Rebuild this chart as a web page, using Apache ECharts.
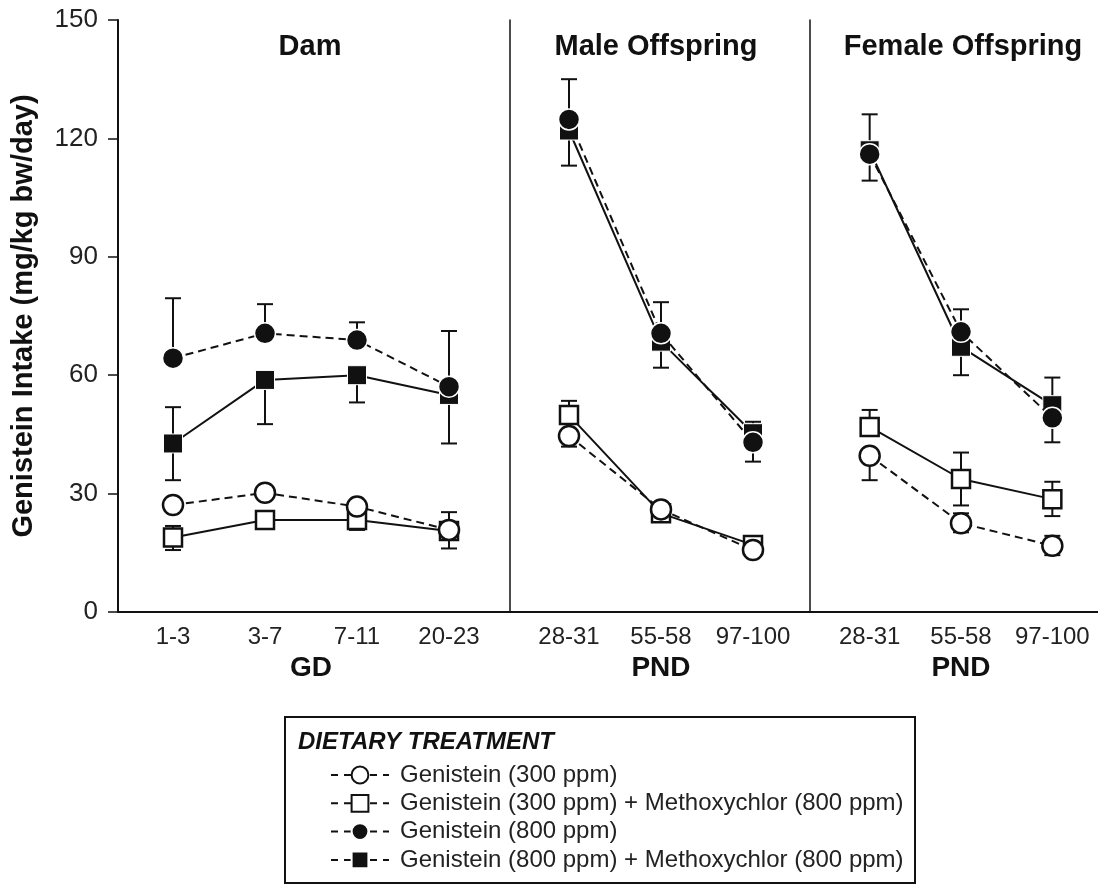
<!DOCTYPE html>
<html>
<head>
<meta charset="utf-8">
<script src="https://cdn.jsdelivr.net/npm/echarts@6/dist/echarts.min.js"></script>
<style>
  html, body { margin: 0; padding: 0; background: #fff; }
  #chart { width: 1098px; height: 888px; }
</style>
</head>
<body>
<div id="chart"></div>
<script>
// panels and their categories
const panelTitles = ['Dam', 'Male Offspring', 'Female Offspring']
const panelAxisNames = ['GD', 'PND', 'PND']
const damDays = ['1-3', '3-7', '7-11', '20-23']
const offspringDays = ['28-31', '55-58', '97-100']

const treatments = [
  'Genistein (300 ppm)',
  'Genistein (300 ppm) + Methoxychlor (800 ppm)',
  'Genistein (800 ppm)',
  'Genistein (800 ppm) + Methoxychlor (800 ppm)'
]

// mean intake, mg/kg bw/day  (order: G300, G300+M, G800, G800+M)
const damValues = [
  [27.1, 30.2, 26.7, 20.8],
  [18.9, 23.3, 23.3, 20.5],
  [64.3, 70.6, 68.9, 57.1],
  [42.7, 58.8, 60.0, 55.0]
]
const maleValues = [
  [44.6, 26.0, 15.7],
  [49.9, 25.0, 17.0],
  [124.8, 70.6, 43.0],
  [122.0, 68.5, 45.3]
]
const femaleValues = [
  [39.6, 22.5, 16.8],
  [46.9, 33.7, 28.6],
  [116.0, 71.0, 49.2],
  [117.0, 67.2, 52.4]
]

// error bars as they show: [category index, low end, high end]
const damErrors = [
  [0, 64.3, 79.5], [1, 70.6, 78.0], [2, 68.9, 73.4], [3, 57.1, 71.2],
  [0, 33.4, 51.9], [1, 47.6, 58.8], [2, 53.1, 60.0], [3, 42.7, 55.0],
  [3, 16.1, 25.3],
  [0, 15.7, 21.8], [2, 20.8, 23.3]
]
const maleErrors = [
  [0, 113.1, 135.0], [1, 61.9, 78.5], [2, 38.1, 48.2],
  [0, 41.9, 53.5]
]
const femaleErrors = [
  [0, 109.3, 126.1], [1, 60.0, 76.7], [2, 43.0, 59.4],
  [0, 46.9, 51.2], [1, 27.0, 40.4], [2, 24.3, 33.0],
  [0, 33.4, 39.6], [1, 20.2, 25.0], [2, 14.4, 19.3]
]

const yTicks = [0, 30, 60, 90, 120, 150]

const panelCats = [damDays, offspringDays, offspringDays]
const panelValues = [damValues, maleValues, femaleValues]
const panelErrors = [damErrors, maleErrors, femaleErrors]

const FONT = '"Liberation Sans", Arial, Helvetica, sans-serif'
const INK = '#111'

const styles = [
  { symbol: 'circle', size: 20, fill: '#fff', border: INK, bw: 2.5, dash: [8, 5], z: 4 },
  { symbol: 'rect', size: 18, fill: '#fff', border: INK, bw: 2.5, dash: 'solid', z: 3 },
  { symbol: 'circle', size: 21, fill: INK, border: '#fff', bw: 1.5, dash: [8, 5], z: 6 },
  { symbol: 'rect', size: 19, fill: INK, border: '#fff', bw: 1, dash: 'solid', z: 5 }
]

const grids = [
  { left: 127, top: 20, width: 368, height: 592 },
  { left: 523, top: 20, width: 276, height: 592 },
  { left: 824, top: 20, width: 274, height: 592 },
  { left: 118, top: 20, width: 980, height: 592 }
]
const yOffsets = [9, 13, 14]

const xAxes = panelCats.map((cats, p) => ({
  type: 'category',
  gridIndex: p,
  data: cats,
  boundaryGap: true,
  axisLine: { show: false },
  axisTick: { show: false },
  axisLabel: { interval: 0, hideOverlap: false, fontSize: 24, color: '#222', fontFamily: FONT, margin: 13 },
  name: panelAxisNames[p],
  nameLocation: 'middle',
  nameGap: 31,
  nameTextStyle: { fontSize: 28, fontWeight: 'bold', color: INK, fontFamily: FONT }
}))
// continuous baseline under the three panels
xAxes.push({
  type: 'value', gridIndex: 3, min: 0, max: 1,
  axisLine: { show: true, lineStyle: { color: INK, width: 2 } },
  axisTick: { show: false }, axisLabel: { show: false }, splitLine: { show: false }
})

const yAxes = panelCats.map((c, p) => ({
  type: 'value',
  gridIndex: p,
  min: yTicks[0],
  max: yTicks[yTicks.length - 1],
  interval: 30,
  offset: yOffsets[p],
  splitLine: { show: false },
  axisLine: { show: true, lineStyle: { color: INK, width: p === 0 ? 2 : 1.5 } },
  axisTick: { show: p === 0, length: 10, lineStyle: { color: INK, width: 1.5 } },
  axisLabel: { show: p === 0, fontSize: 26, color: '#222', fontFamily: FONT, margin: 20 },
  name: p === 0 ? 'Genistein Intake (mg/kg bw/day)' : '',
  nameLocation: 'middle',
  nameGap: 80,
  nameTextStyle: { fontSize: 29, fontWeight: 'bold', color: INK, fontFamily: FONT }
}))
yAxes.push({ type: 'value', gridIndex: 3, min: 0, max: 1, show: false })

const series = []
panelValues.forEach((vals, p) => {
  series.push({
    type: 'custom',
    xAxisIndex: p,
    yAxisIndex: p,
    z: 1,
    silent: true,
    data: panelErrors[p],
    renderItem: function (params, api) {
      const lo = api.coord([api.value(0), api.value(1)])
      const hi = api.coord([api.value(0), api.value(2)])
      const w = 8
      const st = { stroke: INK, lineWidth: 2 }
      return {
        type: 'group',
        children: [
          { type: 'line', shape: { x1: lo[0], y1: lo[1], x2: hi[0], y2: hi[1] }, style: st },
          { type: 'line', shape: { x1: hi[0] - w, y1: hi[1], x2: hi[0] + w, y2: hi[1] }, style: st },
          { type: 'line', shape: { x1: lo[0] - w, y1: lo[1], x2: lo[0] + w, y2: lo[1] }, style: st }
        ]
      }
    }
  })
  vals.forEach((v, t) => {
    const s = styles[t]
    series.push({
      name: treatments[t],
      type: 'line',
      xAxisIndex: p,
      yAxisIndex: p,
      data: v,
      z: s.z,
      symbol: s.symbol,
      symbolSize: s.size,
      showAllSymbol: true,
      lineStyle: { color: INK, width: 2, type: s.dash },
      itemStyle: { color: s.fill, borderColor: s.border, borderWidth: s.bw, opacity: 1 },
      emphasis: { disabled: true },
      animation: false
    })
  })
})

const chart = echarts.init(document.getElementById('chart'))
chart.setOption({
  backgroundColor: '#fff',
  animation: false,
  textStyle: { fontFamily: FONT },
  grid: grids,
  xAxis: xAxes,
  yAxis: yAxes,
  series: series,
  legend: {
    orient: 'vertical',
    left: 330,
    top: 763,
    padding: 0,
    itemWidth: 58,
    itemHeight: 21,
    itemGap: 4.3,
    selectedMode: false,
    data: treatments,
    lineStyle: { type: [7, 6], width: 2 },
    textStyle: { fontSize: 24, color: '#222', fontFamily: FONT, padding: [0, 0, 0, 6] }
  },
  graphic: [
    { type: 'text', x: 310, y: 47, style: { text: panelTitles[0], font: 'bold 29px ' + FONT, fill: INK, align: 'center', verticalAlign: 'middle' } },
    { type: 'text', x: 656, y: 47, style: { text: panelTitles[1], font: 'bold 29px ' + FONT, fill: INK, align: 'center', verticalAlign: 'middle' } },
    { type: 'text', x: 963, y: 47, style: { text: panelTitles[2], font: 'bold 29px ' + FONT, fill: INK, align: 'center', verticalAlign: 'middle' } },
    { type: 'rect', shape: { x: 285, y: 717, width: 630, height: 166 }, style: { fill: 'none', stroke: INK, lineWidth: 2 } },
    { type: 'text', x: 298, y: 742, style: { text: 'DIETARY TREATMENT', font: 'italic bold 24px ' + FONT, fill: INK, verticalAlign: 'middle' } }
  ]
})
</script>
</body>
</html>
